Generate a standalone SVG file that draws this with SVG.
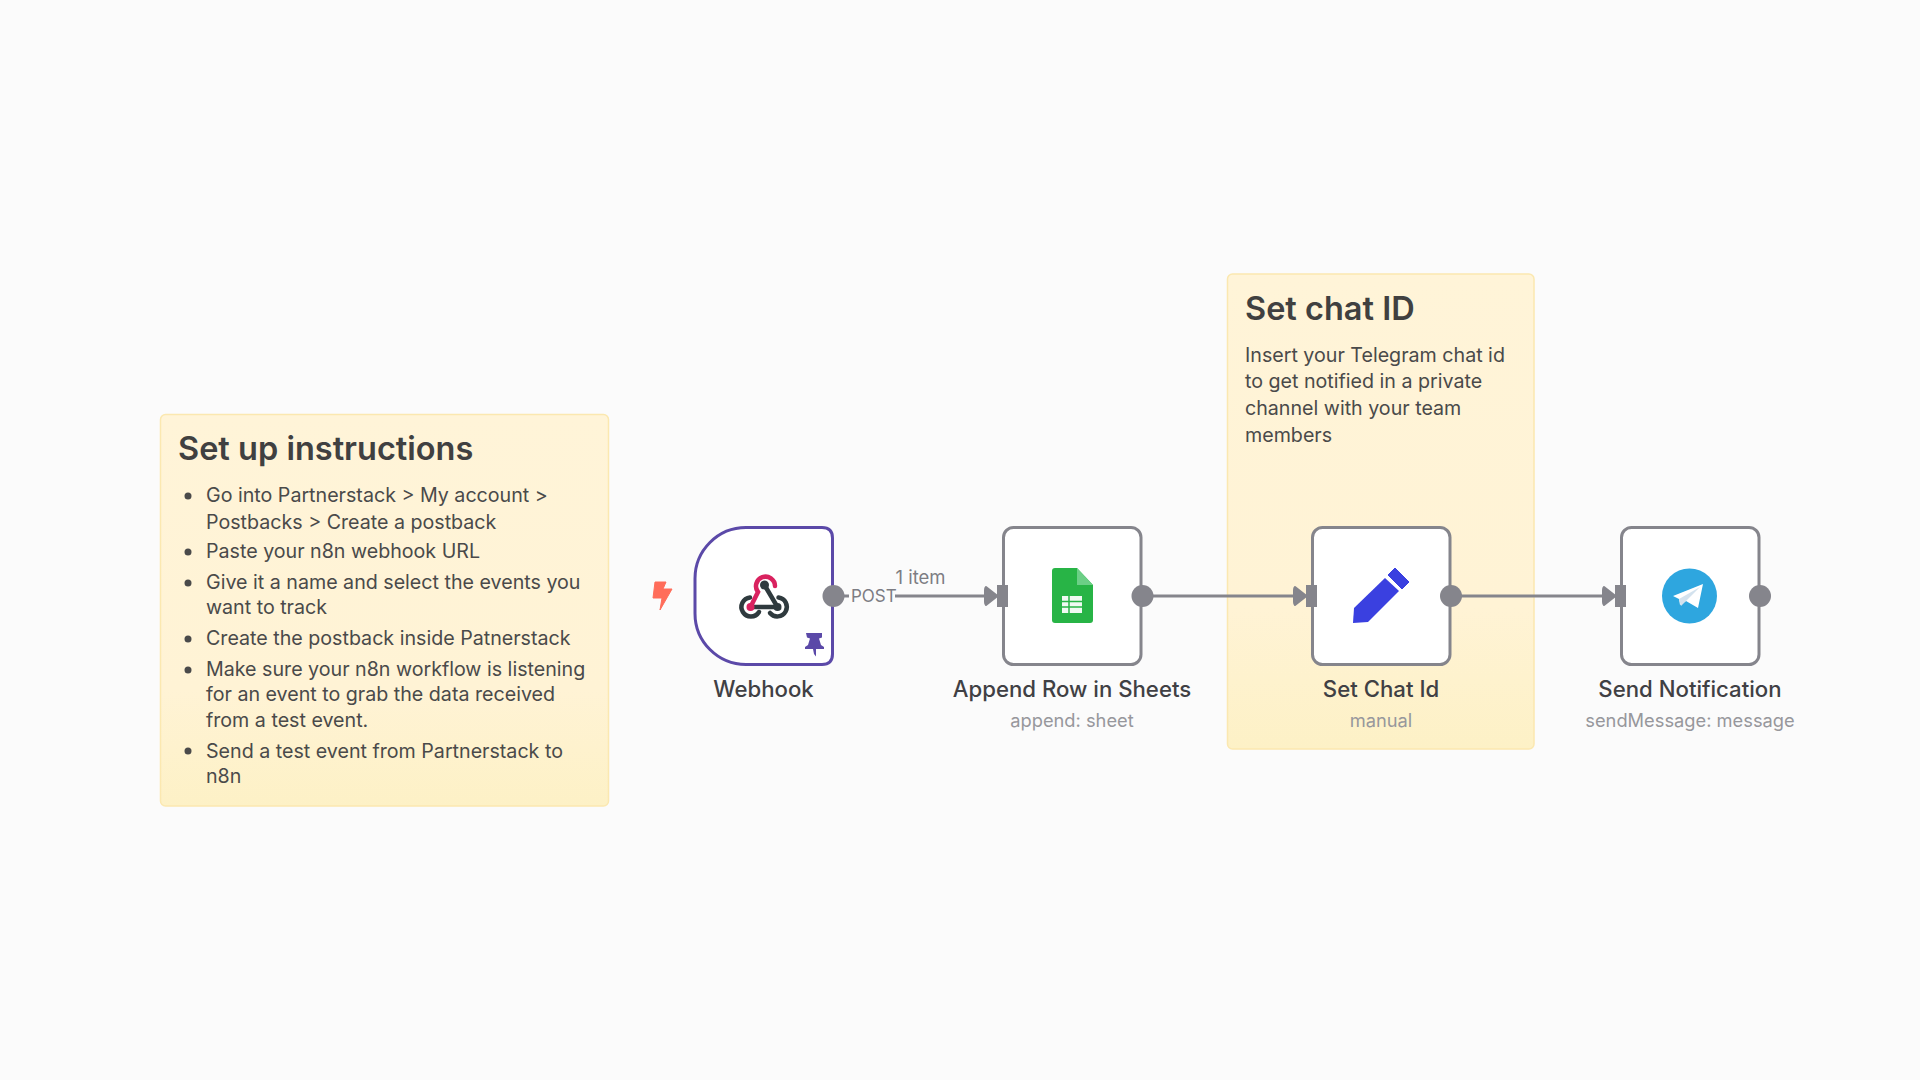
<svg xmlns="http://www.w3.org/2000/svg" width="1920" height="1080" viewBox="0 0 1920 1080">
<style>
text{font-family:Inter,"Noto Sans",sans-serif}
.sticky{stroke:#fbe8b0;stroke-width:1.5}
.h{font-size:32.500px;font-weight:600;fill:#404040}
.b{font-size:19.650px;font-weight:400;fill:#4a4a4a}
.box{fill:#fff;stroke:#85858c;stroke-width:3}
.name{font-size:22.200px;font-weight:500;fill:#404044;text-anchor:middle}
.sub{font-size:18.300px;fill:#97979c;text-anchor:middle}
.lbl{fill:#7d7d83}
.edge{stroke:#85858c;stroke-width:3;fill:none}
.port{fill:#85858c}
.dk{fill:none;stroke:#2f3a3e;stroke-width:4.500;stroke-linecap:round}
</style>
<defs>
<linearGradient id="stk" x1="0" y1="0" x2="0" y2="1"><stop offset="0" stop-color="#fff4d8"/><stop offset=".7" stop-color="#fff3d5"/><stop offset="1" stop-color="#fdf1c6"/></linearGradient>
<g id="inp"><path d="M-17-9-5.500 0-17 9Q-18 8-18 6V-6Q-18-8-17-9Z" class="port" stroke="#85858c" stroke-width="2" stroke-linejoin="round"/><path d="M-6-11H5V11H-6Z" class="port"/></g>
</defs>
<rect width="1920" height="1080" fill="#fbfbfb"/>
<g id="note-setup">
<rect class="sticky" fill="url(#stk)" x="160.500" y="414.500" width="448" height="391.500" rx="5"/>
<text class="h" x="178" y="460">Set up instructions</text>
<circle cx="188" cy="496" r="3.500" fill="#4a4a4a"/><circle cx="188" cy="552" r="3.500" fill="#4a4a4a"/><circle cx="188" cy="583" r="3.500" fill="#4a4a4a"/><circle cx="188" cy="639" r="3.500" fill="#4a4a4a"/><circle cx="188" cy="670" r="3.500" fill="#4a4a4a"/><circle cx="188" cy="751" r="3.500" fill="#4a4a4a"/>
<text class="b" x="206" y="502">Go into Partnerstack &gt; My account &gt;</text>
<text class="b" x="206" y="529">Postbacks &gt; Create a postback</text>
<text class="b" x="206" y="558">Paste your n8n webhook URL</text>
<text class="b" x="206" y="589">Give it a name and select the events you</text>
<text class="b" x="206" y="614">want to track</text>
<text class="b" x="206" y="645">Create the postback inside Patnerstack</text>
<text class="b" x="206" y="676">Make sure your n8n workflow is listening</text>
<text class="b" x="206" y="701">for an event to grab the data received</text>
<text class="b" x="206" y="727">from a test event.</text>
<text class="b" x="206" y="758">Send a test event from Partnerstack to</text>
<text class="b" x="206" y="783">n8n</text>
</g>
<g id="note-chat">
<rect class="sticky" fill="url(#stk)" x="1227.500" y="274" width="306.500" height="475" rx="5"/>
<text class="h" x="1245" y="320">Set chat ID</text>
<text class="b" x="1245" y="362">Insert your Telegram chat id</text>
<text class="b" x="1245" y="388">to get notified in a private</text>
<text class="b" x="1245" y="415">channel with your team</text>
<text class="b" x="1245" y="442">members</text>
</g>
<g id="connectors">
<path class="edge" d="M833 596H849"/>
<path class="edge" d="M895 596H987"/>
<path class="edge" d="M1142 596H1296"/>
<path class="edge" d="M1451 596H1605"/>
<text class="lbl" font-size="18.500" x="895.500" y="584">1 item</text>
<text class="lbl" font-size="17" x="851" y="602">POST</text>
</g>
<g id="node-webhook">
<path class="box" style="stroke:#5b49a8" d="M746 527.500H822Q832.500 527.500 832.500 538V654Q832.500 664.500 822 664.500H746A51 51 0 0 1 695 613.500V578.500A51 51 0 0 1 746 527.500Z"/>
<path d="M655 582H666L663 589H672L660 610 662 598H653Z" fill="#ff6d5a" stroke="#ff6d5a" stroke-linejoin="round"/>
<g transform="translate(.5 0)">
<path d="M750 607L757.500 592A9.500 9.500 0 1 1 774.500 586" fill="none" stroke="#d9225f" stroke-width="4.500" stroke-linecap="round"/>
<path class="dk" d="M764 585L777 607H752"/>
<path class="dk" d="M749.500 597.500A9.500 9.500 0 1 0 758.500 612"/>
<path class="dk" d="M778 597.500A9.500 9.500 0 1 1 769.500 613"/>
<circle cx="764" cy="585" r="4.500" fill="#2f3a3e"/><circle cx="777" cy="607" r="4" fill="#2f3a3e"/><circle cx="750" cy="607" r="4" fill="#d9225f"/>
</g>
<path d="M806 633H822V637.500L819 638.500 821 645 824 647V649H816V656.500L814 654 813 649H805V647L808 645 810 638.500 807 637.500Z" fill="#5b49a8"/>
<circle class="port" cx="833.500" cy="596" r="11"/>
<text class="name" x="763.500" y="697">Webhook</text>
</g>
<g id="node-sheets">
<rect class="box" x="1003.500" y="527.500" width="137.500" height="137" rx="10"/>
<path d="M1055 568H1077L1093 585V620Q1093 623 1090 623H1055Q1052 623 1052 620V571Q1052 568 1055 568Z" fill="#28b446"/>
<path d="M1077 568L1093 585H1077Z" fill="#6ccf86"/>
<path d="M1062 596H1082V613H1062Z" fill="#f0faf2"/>
<path d="M1062 601.500H1082M1062 607H1082M1069 596V613" stroke="#28b446" stroke-width="1.500"/>
<use href="#inp" x="1003" y="596"/>
<circle class="port" cx="1142.500" cy="596" r="11"/>
<text class="name" x="1072" y="697">Append Row in Sheets</text>
<text class="sub" x="1072" y="727">append: sheet</text>
</g>
<g id="node-set">
<rect class="box" x="1312.500" y="527.500" width="137.500" height="137" rx="10"/>
<path d="M1385 578L1399 591 1368 622 1353 623 1354 608Z" fill="#3a40e0"/>
<path d="M1388 575L1395 568 1409 582 1402 589Z" fill="#3a40e0" stroke="#3a40e0" stroke-linejoin="round"/>
<use href="#inp" x="1312" y="596"/>
<circle class="port" cx="1451" cy="596" r="11"/>
<text class="name" x="1381" y="697">Set Chat Id</text>
<text class="sub" x="1381" y="727">manual</text>
</g>
<g id="node-telegram">
<rect class="box" x="1621.500" y="527.500" width="137.500" height="137" rx="10"/>
<circle cx="1689.500" cy="596" r="27.500" fill="#2ea6df"/>
<path d="M1673 596L1703 584 1698 608 1686 601 1680 605 1679 599Z" fill="#fff"/>
<path d="M1679 599L1681 606 1686 601 1700 587Z" fill="#d3e2ee"/>
<use href="#inp" x="1621" y="596"/>
<circle class="port" cx="1760" cy="596" r="11"/>
<text class="name" x="1690" y="697">Send Notification</text>
<text class="sub" x="1690" y="727">sendMessage: message</text>
</g>
</svg>
